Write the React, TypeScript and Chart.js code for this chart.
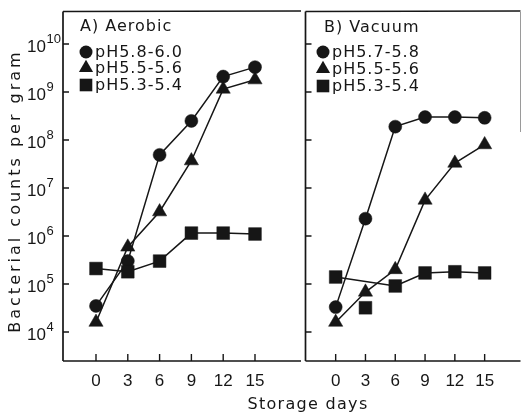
import React, { useEffect, useRef } from 'react';
import { Chart, registerables } from 'chart.js';

Chart.register(...registerables);

// ---------- data ----------
const DAYS = [0, 3, 6, 9, 12, 15];
const X_TICKS = [0, 3, 6, 9, 12, 15];
const Y_DECADES = [4, 5, 6, 7, 8, 9, 10];

const AEROBIC_HIGH = [3.5e4, 3.0e5, 4.9e7, 2.5e8, 2.1e9, 3.3e9];
const AEROBIC_MID = [1.6e4, 5.9e5, 3.2e6, 3.7e7, 1.15e9, 1.8e9];
const AEROBIC_LOW = [2.1e5, 1.8e5, 3.0e5, 1.15e6, 1.15e6, 1.1e6];

const VACUUM_HIGH = [3.3e4, 2.3e6, 1.9e8, 3.0e8, 3.0e8, 2.9e8];
const VACUUM_MID = [1.6e4, 6.8e4, 2.0e5, 5.6e6, 3.3e7, 8.0e7];
const VACUUM_LOW = [1.4e5, null, 9.1e4, 1.7e5, 1.8e5, 1.7e5];
const VACUUM_LOW_UNLINKED = [null, 3.2e4, null, null, null, null];

const AEROBIC_LABELS = ['pH5.8-6.0', 'pH5.5-5.6', 'pH5.3-5.4'];
const VACUUM_LABELS = ['pH5.7-5.8', 'pH5.5-5.6', 'pH5.3-5.4'];
const PANEL_TITLES = ['A) Aerobic', 'B) Vacuum'];
const X_TITLE = 'Storage days';
const Y_TITLE = 'Bacterial counts per gram';

const INK = '#161616';
const MARKERS = ['circle', 'triangle', 'rect'];
const RADII = [6.5, 8.2, 9];

const Y_MIN = Math.pow(10, 3.396);
const Y_MAX = Math.pow(10, 10.667);

function toPoints(values: (number | null)[]) {
  return DAYS.map((d, i) => ({ x: d, y: values[i] }));
}

function series(values: (number | null)[], idx: number, showLine = true) {
  return {
    data: toPoints(values),
    borderColor: INK,
    borderWidth: 1.5,
    showLine,
    spanGaps: true,
    tension: 0,
    pointStyle: MARKERS[idx],
    pointRadius: RADII[idx],
    pointBackgroundColor: INK,
    pointBorderColor: INK,
    pointBorderWidth: 0.5,
    clip: false,
  };
}

function drawMarker(ctx: CanvasRenderingContext2D, style: string, x: number, y: number) {
  ctx.beginPath();
  if (style === 'circle') {
    ctx.arc(x, y, 6.5, 0, Math.PI * 2);
  } else if (style === 'triangle') {
    const r = 8.2;
    ctx.moveTo(x, y - r);
    ctx.lineTo(x + r * 0.866, y + r * 0.5);
    ctx.lineTo(x - r * 0.866, y + r * 0.5);
    ctx.closePath();
  } else {
    const s = 6.3;
    ctx.rect(x - s, y - s, 2 * s, 2 * s);
  }
  ctx.fill();
}

interface PanelCfg {
  title: string;
  titleX: number;
  titleY: number;
  labels: string[];
  markerX: number;
  textX: number;
  rowsY: number[];
  leftPanel: boolean;
}

function makePlugin(cfg: PanelCfg) {
  return {
    id: 'panelDecor',
    beforeDatasetsDraw(chart: any) {
      const { ctx, chartArea: a, scales } = chart;
      const xs = scales.x;
      const ys = scales.y;
      ctx.save();
      ctx.strokeStyle = INK;
      ctx.lineWidth = 1.7;
      ctx.beginPath();
      ctx.moveTo(a.left, a.top - 0.5);
      ctx.lineTo(a.right, a.top - 1);
      ctx.moveTo(a.left, a.top - 0.5);
      ctx.lineTo(a.left, a.bottom);
      ctx.moveTo(a.left, a.bottom);
      ctx.lineTo(a.right, a.bottom);
      ctx.stroke();
      ctx.lineWidth = 1.4;
      ctx.beginPath();
      for (const d of Y_DECADES) {
        const py = ys.getPixelForValue(Math.pow(10, d));
        ctx.moveTo(a.left, py);
        ctx.lineTo(a.left + 6, py);
      }
      for (const t of X_TICKS) {
        const px = xs.getPixelForValue(t);
        ctx.moveTo(px, a.bottom);
        ctx.lineTo(px, a.bottom - 7);
      }
      ctx.stroke();
      if (!cfg.leftPanel) {
        ctx.strokeStyle = '#9a9a9a';
        ctx.lineWidth = 1;
        ctx.beginPath();
        ctx.moveTo(a.right, a.top);
        ctx.lineTo(a.right, a.top + 120);
        ctx.stroke();
      }
      ctx.restore();
    },
    afterDraw(chart: any) {
      const { ctx, scales } = chart;
      const xs = scales.x;
      const ys = scales.y;
      ctx.save();
      ctx.fillStyle = INK;
      // panel title + legend
      ctx.font = '16px "DejaVu Sans"';
      ctx.letterSpacing = '1px';
      ctx.textAlign = 'left';
      ctx.textBaseline = 'middle';
      ctx.fillText(cfg.title, cfg.titleX, cfg.titleY);
      cfg.labels.forEach((lab, i) => {
        drawMarker(ctx, MARKERS[i], cfg.markerX, cfg.rowsY[i]);
        ctx.fillText(lab, cfg.textX, cfg.rowsY[i] + 1);
      });
      // x tick labels
      ctx.letterSpacing = '0px';
      ctx.font = '17px "Liberation Sans"';
      ctx.textAlign = 'center';
      for (const t of X_TICKS) {
        ctx.fillText(String(t), xs.getPixelForValue(t), 381);
      }
      if (cfg.leftPanel) {
        // y tick labels
        for (const d of Y_DECADES) {
          const py = ys.getPixelForValue(Math.pow(10, d));
          ctx.font = '17px "Liberation Sans"';
          ctx.textAlign = 'right';
          ctx.fillText('10', 46, py + 3);
          ctx.font = '13px "Liberation Sans"';
          ctx.textAlign = 'left';
          ctx.fillText(String(d), 46.5, py - 5);
        }
        // axis titles
        ctx.font = '16px "DejaVu Sans"';
        ctx.letterSpacing = '1.3px';
        ctx.textAlign = 'center';
        ctx.fillText(X_TITLE, 308, 405);
        ctx.save();
        ctx.translate(16, 191);
        ctx.rotate(-Math.PI / 2);
        ctx.letterSpacing = '3px';
        ctx.fillText(Y_TITLE, 0, 0);
        ctx.restore();
      }
      ctx.restore();
    },
  };
}

function makeChart(
  canvas: HTMLCanvasElement,
  datasets: any[],
  xMin: number,
  xMax: number,
  padding: any,
  cfg: PanelCfg
) {
  return new Chart(canvas, {
    type: 'line',
    data: { datasets },
    options: {
      animation: false,
      responsive: false,
      maintainAspectRatio: false,
      devicePixelRatio: 1,
      events: [],
      layout: { padding },
      plugins: { legend: { display: false }, tooltip: { enabled: false } },
      scales: {
        x: { type: 'linear', min: xMin, max: xMax, display: false },
        y: { type: 'logarithmic', min: Y_MIN, max: Y_MAX, display: false },
      },
    } as any,
    plugins: [makePlugin(cfg) as any],
  });
}

const RIGHT_OFFSET = 296;

export default function App() {
  const leftRef = useRef<HTMLCanvasElement>(null);
  const rightRef = useRef<HTMLCanvasElement>(null);

  useEffect(() => {
    const left = makeChart(
      leftRef.current!,
      [series(AEROBIC_LOW, 2), series(AEROBIC_MID, 1), series(AEROBIC_HIGH, 0)],
      -3.113,
      19.34,
      { left: 63, right: 229, top: 12, bottom: 54 },
      {
        title: PANEL_TITLES[0],
        titleX: 80,
        titleY: 27,
        labels: AEROBIC_LABELS,
        markerX: 86,
        textX: 95,
        rowsY: [52, 68, 85],
        leftPanel: true,
      }
    );
    const right = makeChart(
      rightRef.current!,
      [
        series(VACUUM_LOW, 2),
        series(VACUUM_LOW_UNLINKED, 2, false),
        series(VACUUM_MID, 1),
        series(VACUUM_HIGH, 0),
      ],
      -3.038,
      18.61,
      { left: 5, right: 1, top: 12, bottom: 54 },
      {
        title: PANEL_TITLES[1],
        titleX: 324 - RIGHT_OFFSET,
        titleY: 28,
        labels: VACUUM_LABELS,
        markerX: 323 - RIGHT_OFFSET,
        textX: 332 - RIGHT_OFFSET,
        rowsY: [52, 69, 86],
        leftPanel: false,
      }
    );
    return () => {
      left.destroy();
      right.destroy();
    };
  }, []);

  return (
    <div
      style={{
        position: 'fixed',
        left: 0,
        top: 0,
        width: 530,
        height: 415,
        background: '#fff',
        overflow: 'hidden',
      }}
    >
      <canvas
        ref={leftRef}
        width={530}
        height={415}
        style={{ position: 'absolute', left: 0, top: 0, width: 530, height: 415 }}
      />
      <canvas
        ref={rightRef}
        width={234}
        height={415}
        style={{ position: 'absolute', left: RIGHT_OFFSET, top: 0, width: 234, height: 415 }}
      />
    </div>
  );
}
